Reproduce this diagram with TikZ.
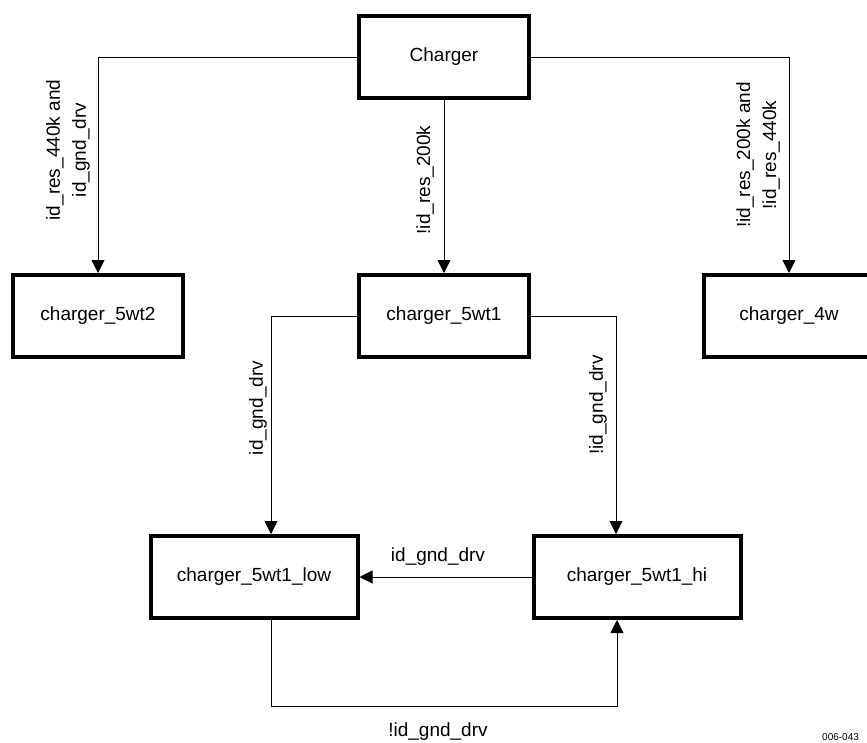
\documentclass[tikz,border=0pt]{standalone}
\usepackage{fontspec}
\setmainfont{Liberation Sans}
\usetikzlibrary{arrows.meta}

\tikzset{
  statebox/.style={draw, line width=4pt, minimum width=170pt, minimum height=82pt,
    inner sep=0pt, font=\fontsize{19}{26}\selectfont},
  widebox/.style={statebox, minimum width=207pt},
  conn/.style={line width=0.9pt, -{Triangle[length=13pt,width=13pt]}},
  lbl/.style={font=\fontsize{19}{26}\selectfont, align=center, inner sep=0pt},
}

\begin{document}
\begin{tikzpicture}[x=1pt, y=-1pt]
  \useasboundingbox (0,0) rectangle (867,742);

  %% States
  \node[statebox] (charger) at (444,57)  {Charger};
  \node[statebox] (c5wt2)   at (98,316)  {charger\_5wt2};
  \node[statebox] (c5wt1)   at (444,316) {charger\_5wt1};
  \node[statebox] (c4w)     at (789,316) {charger\_4w};
  \node[widebox]  (low)     at (254,577) {charger\_5wt1\_low};
  \node[widebox]  (hi)      at (637,577) {charger\_5wt1\_hi};

  %% Transitions out of Charger
  \draw[conn] (charger.west) -| (c5wt2.north);
  \draw[conn] (charger.south) -- (c5wt1.north);
  \draw[conn] (charger.east) -| (c4w.north);

  %% Transitions out of charger_5wt1
  \draw[conn] (c5wt1.west) -| ([xshift=17pt]low.north);
  \draw[conn] (c5wt1.east) -| ([xshift=-21pt]hi.north);

  %% Between low and hi
  \draw[conn] (hi.west) -- (low.east);
  \draw[conn] ([xshift=17pt]low.south) -- ++(0,86) -| ([xshift=-20pt]hi.south);

  %% Conditions
  \node[lbl, rotate=90] (l5wt2) at (68,150)  {id\_res\_440k and\\id\_gnd\_drv};
  \node[lbl, rotate=90] (l5wt1) at (425,180) {!id\_res\_200k};
  \node[lbl, rotate=90] (l4w)   at (758,155) {!id\_res\_200k and\\!id\_res\_440k};
  \node[lbl, rotate=90] (llow)  at (258,408) {id\_gnd\_drv};
  \node[lbl, rotate=90] (lhi)   at (598,405) {!id\_gnd\_drv};
  \node[lbl] (lback) at (438,557) {id\_gnd\_drv};
  \node[lbl] (lfwd)  at (438,732) {!id\_gnd\_drv};

  %% Figure number
  \node[font=\fontsize{10}{12}\selectfont, anchor=south west, inner sep=0pt]
    (fignum) at (822,741) {006-043};
\end{tikzpicture}
\end{document}
